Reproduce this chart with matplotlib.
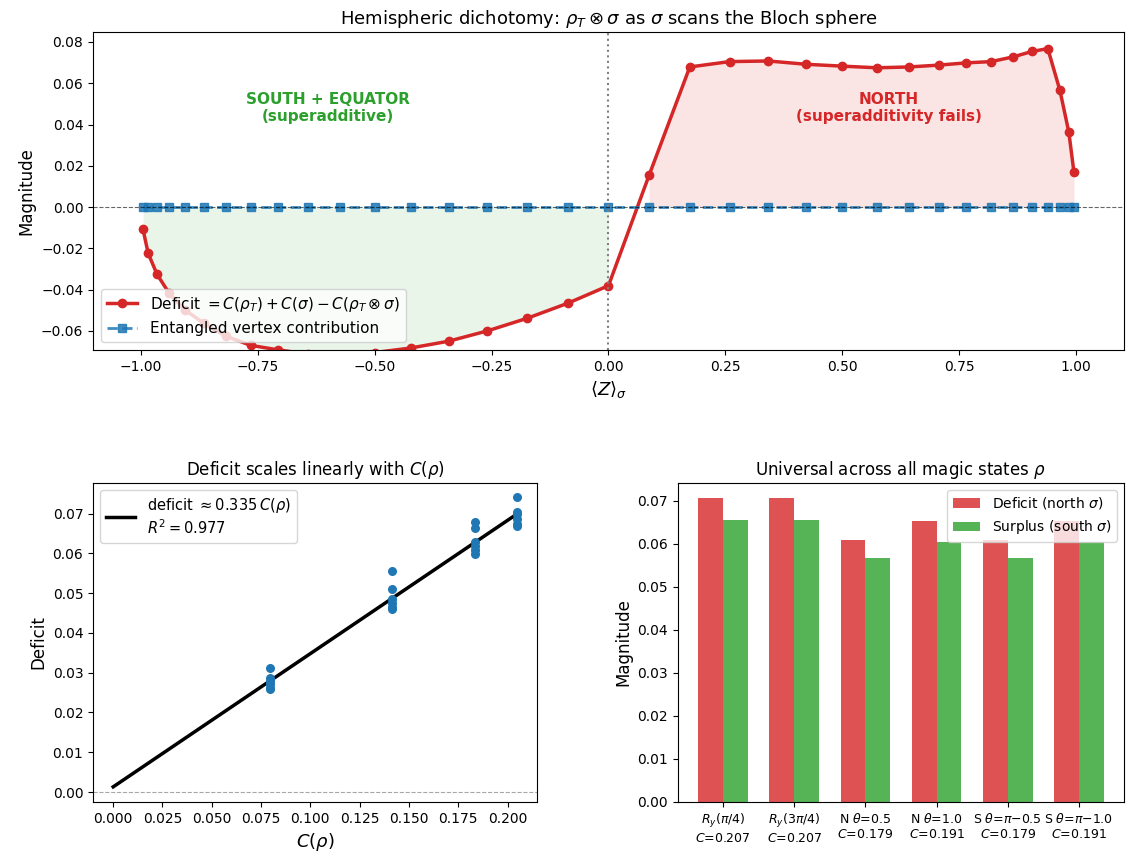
import numpy as np
import matplotlib
matplotlib.use("Agg")
import matplotlib.pyplot as plt
from matplotlib.ticker import MultipleLocator

# <Z> of sigma along the Bloch sphere scan (south -> north)
z_sigma = [-0.996, -0.985, -0.966, -0.940, -0.906, -0.866, -0.819, -0.766,
           -0.707, -0.643, -0.574, -0.500, -0.423, -0.342, -0.259, -0.174,
           -0.087, 0.000, 0.087, 0.174, 0.259, 0.342, 0.423, 0.500, 0.574,
           0.643, 0.707, 0.766, 0.819, 0.866, 0.906, 0.940, 0.966, 0.985, 0.996]
deficit = [-0.0108, -0.0224, -0.0326, -0.0418, -0.0499, -0.0563, -0.0625, -0.0670,
           -0.0692, -0.0712, -0.0718, -0.0705, -0.0683, -0.0650, -0.0600, -0.0539,
           -0.0466, -0.0381, 0.0155, 0.0679, 0.0705, 0.0708, 0.0692, 0.0683, 0.0675,
           0.0679, 0.0688, 0.0699, 0.0705, 0.0728, 0.0754, 0.0768, 0.0565, 0.0363, 0.0168]
vertex = [0.0] * len(z_sigma)

# deficit vs magic C(rho)
c_rho = [0.0795] * 6 + [0.1412] * 6 + [0.1833] * 6 + [0.2047] * 6
deficit_pts = [0.0313, 0.0287, 0.0279, 0.0271, 0.0262, 0.0258,
               0.0556, 0.0510, 0.0485, 0.0475, 0.0464, 0.0460,
               0.0678, 0.0663, 0.0629, 0.0619, 0.0609, 0.0598,
               0.0741, 0.0703, 0.0699, 0.0687, 0.0674, 0.0668]
fit_slope = 0.335
fit_intercept = 0.0013
fit_r2 = 0.977

# magic states
state_labels = [r"$R_y(\pi/4)$" + "\n" + r"$C$=0.207",
                r"$R_y(3\pi/4)$" + "\n" + r"$C$=0.207",
                r"N $\theta$=0.5" + "\n" + r"$C$=0.179",
                r"N $\theta$=1.0" + "\n" + r"$C$=0.191",
                r"S $\theta$=$\pi$$-$0.5" + "\n" + r"$C$=0.179",
                r"S $\theta$=$\pi$$-$1.0" + "\n" + r"$C$=0.191"]
north_deficit = [0.0706, 0.0706, 0.0609, 0.0652, 0.0609, 0.0652]
south_surplus = [0.0656, 0.0656, 0.0566, 0.0604, 0.0566, 0.0604]

fig = plt.figure(figsize=(11.26, 8.58), dpi=100)
ax1 = fig.add_axes([0.0826, 0.592, 0.9156, 0.3706])
ax2 = fig.add_axes([0.0826, 0.0653, 0.3943, 0.3718])
ax3 = fig.add_axes([0.6021, 0.0653, 0.3961, 0.3718])

# --- top: scan over the sphere ---
z = np.array(z_sigma)
d = np.array(deficit)
ax1.fill_between(z, d, 0, where=z <= 0, color="tab:green", alpha=0.1, lw=0)
ax1.fill_between(z, d, 0, where=z > 0, color="tab:red", alpha=0.12, lw=0)
ax1.plot(z, d, "o-", color="tab:red", lw=2.5, ms=6,
         label=r"Deficit $= C(\rho_T) + C(\sigma) - C(\rho_T \otimes \sigma)$")
ax1.plot(z, vertex, "s--", color="tab:blue", lw=2, ms=6, alpha=0.85,
         label="Entangled vertex contribution")
ax1.axhline(0, color="k", ls="--", lw=0.8, alpha=0.6)
ax1.axvline(0, color="gray", ls=":", lw=1.5)
ax1.text(-0.6, 0.048, "SOUTH + EQUATOR\n(superadditive)", color="tab:green",
         fontsize=11, fontweight="bold", ha="center", va="center")
ax1.text(0.6, 0.048, "NORTH\n(superadditivity fails)", color="tab:red",
         fontsize=11, fontweight="bold", ha="center", va="center")
ax1.set_xlim(-1.103, 1.103)
ax1.set_ylim(-0.0693, 0.0848)
ax1.set_xlabel(r"$\langle Z \rangle_\sigma$", fontsize=13)
ax1.set_ylabel("Magnitude", fontsize=12)
ax1.set_title(r"Hemispheric dichotomy: $\rho_T \otimes \sigma$ as $\sigma$ scans the Bloch sphere",
              fontsize=13)
ax1.legend(loc="lower left", fontsize=11)

# --- bottom left: linear scaling ---
ax2.scatter(c_rho, deficit_pts, color="tab:blue", s=30, zorder=3)
c_line = np.array([0.0, max(c_rho)])
ax2.plot(c_line, fit_slope * c_line + fit_intercept, "k-", lw=2.5,
         label=r"deficit $\approx %.3f\,C(\rho)$" % fit_slope + "\n" + r"$R^2 = %.3f$" % fit_r2)
ax2.axhline(0, color="gray", ls="--", lw=0.8, alpha=0.7)
ax2.set_ylim(-0.0025, 0.0777)
ax2.xaxis.set_major_locator(MultipleLocator(0.025))
ax2.set_xlabel(r"$C(\rho)$", fontsize=13)
ax2.set_ylabel("Deficit", fontsize=12)
ax2.set_title(r"Deficit scales linearly with $C(\rho)$", fontsize=12)
ax2.legend(loc="upper left", fontsize=10.5)

# --- bottom right: across magic states ---
x = np.arange(len(state_labels))
w = 0.35
ax3.bar(x - w / 2, north_deficit, w, color="tab:red", alpha=0.8, label=r"Deficit (north $\sigma$)")
ax3.bar(x + w / 2, south_surplus, w, color="tab:green", alpha=0.8, label=r"Surplus (south $\sigma$)")
ax3.set_xticks(x)
ax3.set_xticklabels(state_labels, fontsize=9)
ax3.set_ylabel("Magnitude", fontsize=12)
ax3.set_title(r"Universal across all magic states $\rho$", fontsize=12)
ax3.legend(loc="upper right", fontsize=10)

fig.savefig("out.png", dpi=100)
